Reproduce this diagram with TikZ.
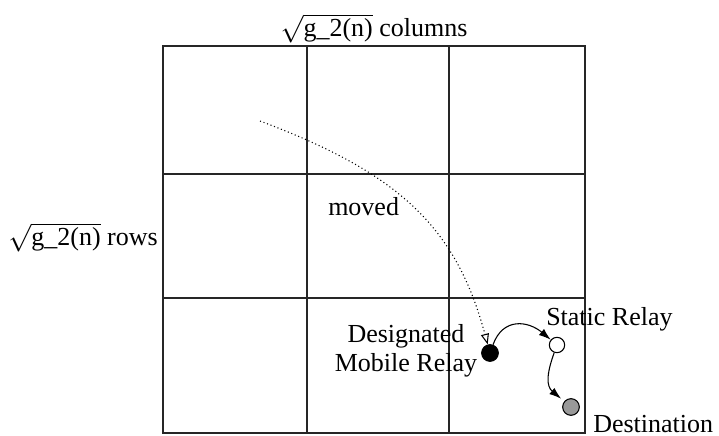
\documentclass[tikz,border=0pt]{standalone}
\usepackage{fontspec}
\setmainfont{Liberation Serif}
\usetikzlibrary{arrows.meta}
\begin{document}
\begin{tikzpicture}[x=0.75pt,y=-0.75pt,
  font=\fontsize{19.5}{20}\selectfont,
  gridline/.style={line width=0.9pt, black!85},
  lbl/.style={inner sep=0pt, anchor=base},
  relay/.style={circle, inner sep=0pt, minimum size=12.5pt, draw=black, line width=0.8pt},
  hop/.style={line width=0.8pt, -{Latex[length=9pt,width=6pt]}},
]
\useasboundingbox (0,0) rectangle (719,436);
% grid
\draw[gridline] (163,46) rectangle (585,433);
\draw[gridline] (307,46) -- (307,433);
\draw[gridline] (449,46) -- (449,433);
\draw[gridline] (163,174) -- (585,174);
\draw[gridline] (163,298) -- (585,298);
% labels
\node[lbl] (cols) at (374,36) {$\sqrt{\hbox{g\_2(n)}}$ columns};
\node[lbl, anchor=base east] (rows) at (158,245) {$\sqrt{\hbox{g\_2(n)}}$ rows};
\node[lbl, anchor=base west] (moved) at (328,215) {moved};
\node[align=center, inner sep=0pt] (mobtxt) at (406,351) {Designated\\[2pt]Mobile Relay};
\node[lbl, anchor=base west] (stattxt) at (546,325) {Static Relay};
\node[lbl, anchor=base west] (desttxt) at (593,432) {Destination};
% relays
\node[relay, fill=black] (mob) at (490,353) {};
\node[relay, fill=white, minimum size=11.5pt] (stat) at (557,345) {};
\node[relay, fill=black!40] (dest) at (571,407) {};
% movement
\coordinate (start) at (260,121);
\draw[line width=0.8pt, dotted, -{Triangle[open,length=8pt,width=6pt]}]
  (start) .. controls (399,173) and (456,227) .. (mob);
% hops
\draw[hop] (mob) to[out=70,in=140, looseness=1.3] (stat);
\draw[hop, shorten >=3pt] (stat) to[out=250,in=140, looseness=1.2] (dest);
\end{tikzpicture}
\end{document}
